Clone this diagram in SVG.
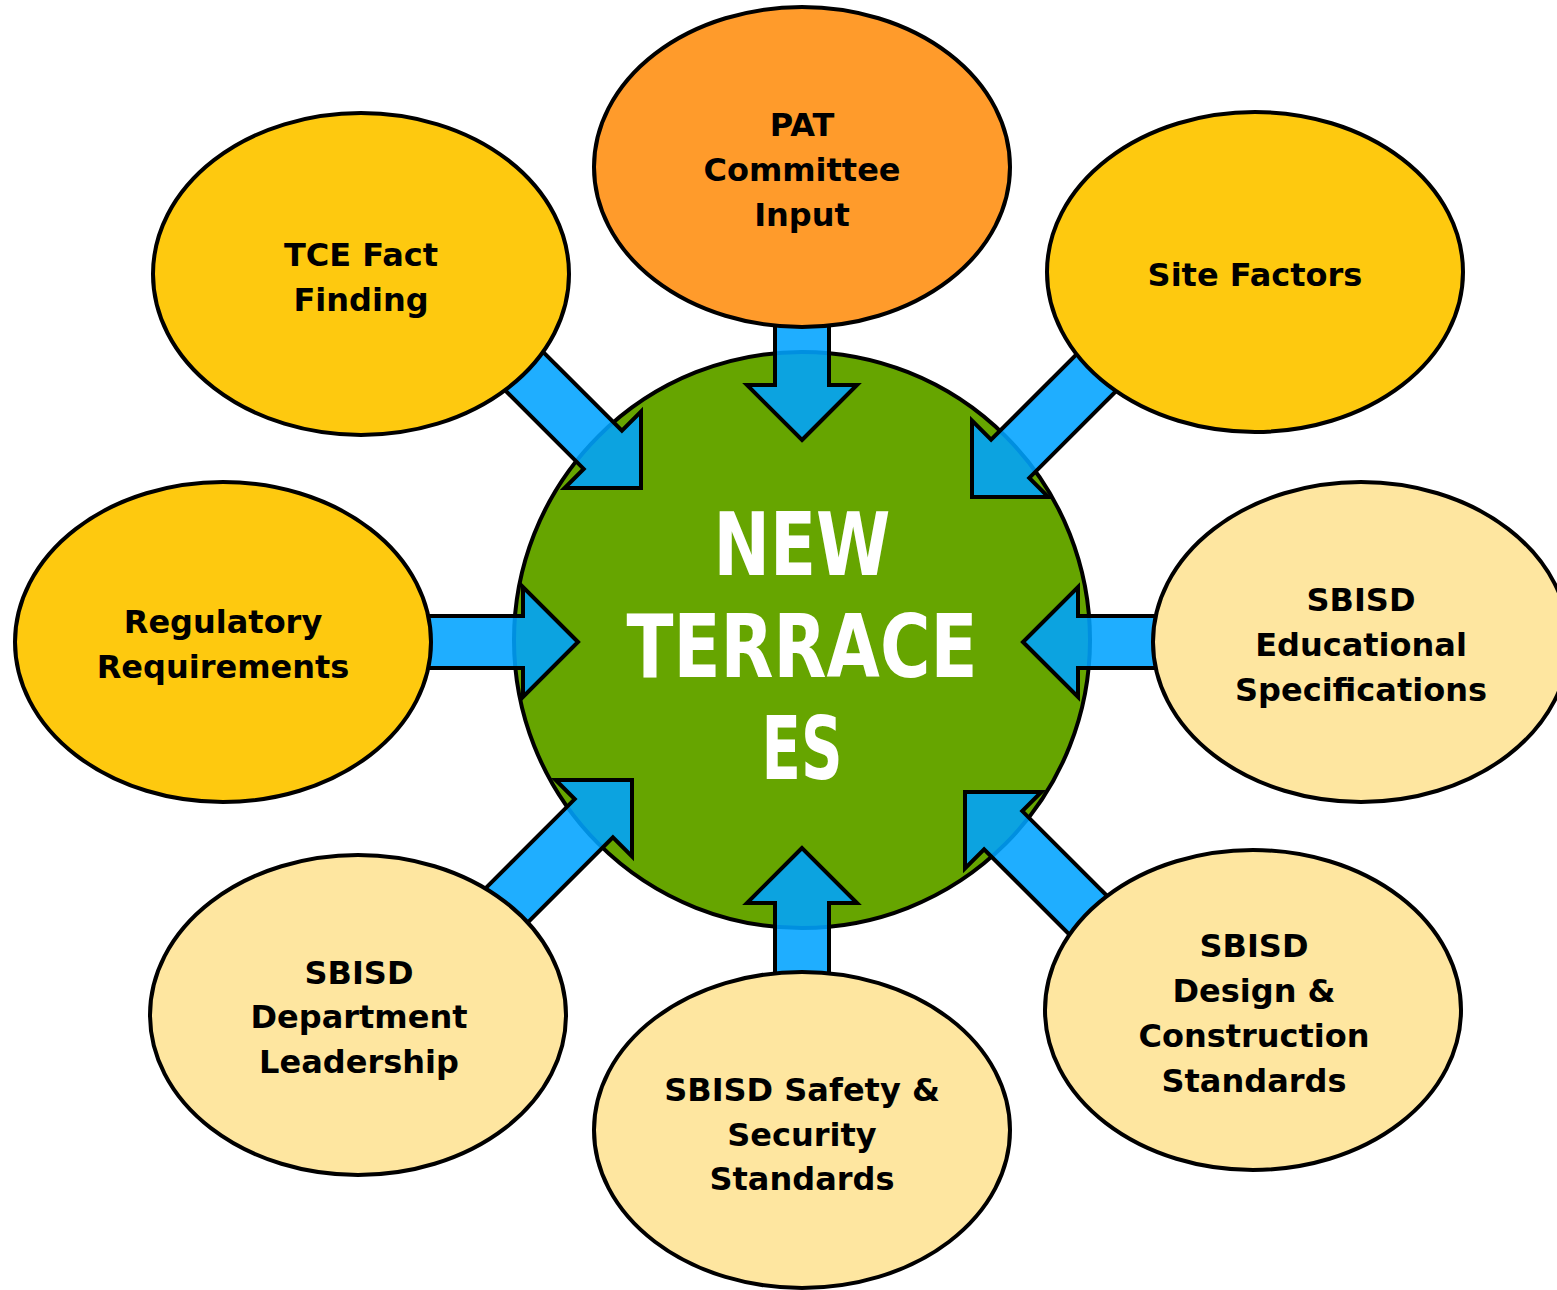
<svg xmlns="http://www.w3.org/2000/svg" width="1557" height="1290" viewBox="0 0 1557 1290">
<style>
.node{stroke:#000;stroke-width:4}
.dark{fill:#FEC90F}
.light{fill:#FEE6A0}
.orange{fill:#FF9B2B}
.lbl{font-family:"DejaVu Sans","Liberation Sans",sans-serif;font-weight:bold;font-size:32px;fill:#000;text-anchor:middle}
.ctr{font-family:"DejaVu Sans","Liberation Sans",sans-serif;font-weight:bold;font-size:88px;fill:#fff;text-anchor:middle}
.arrow{fill:#00A3FF;fill-opacity:0.88;stroke:#000;stroke-width:4;stroke-linejoin:miter}
</style>
<rect width="1557" height="1290" fill="#fff"/>
<g id="center">
<circle cx="802" cy="640" r="288" fill="#66A500" stroke="#000" stroke-width="4"/>
<text class="ctr" x="802" y="575" textLength="177" lengthAdjust="spacingAndGlyphs">NEW</text>
<text class="ctr" x="802" y="677" textLength="351" lengthAdjust="spacingAndGlyphs">TERRACE</text>
<text class="ctr" x="802" y="779" textLength="81" lengthAdjust="spacingAndGlyphs">ES</text>
</g>
<g id="connectors">
<path class="arrow" transform="translate(802,440) rotate(90)" d="M0,0 L-55,-55 L-55,-27 L-128,-27 L-128,27 L-55,27 L-55,55 Z"/>
<path class="arrow" transform="translate(578,642)" d="M0,0 L-55,-55 L-55,-26 L-162,-26 L-162,26 L-55,26 L-55,55 Z"/>
<path class="arrow" transform="translate(1023,642) rotate(180)" d="M0,0 L-55,-55 L-55,-26 L-147,-26 L-147,26 L-55,26 L-55,55 Z"/>
<path class="arrow" transform="translate(802,848) rotate(-90)" d="M0,0 L-55,-55 L-55,-27 L-139,-27 L-139,27 L-55,27 L-55,55 Z"/>
<path class="arrow" transform="translate(641,488) rotate(45)" d="M0,0 L-54,-54 L-54,-27 L-178,-27 L-178,27 L-54,27 L-54,54 Z"/>
<path class="arrow" transform="translate(972,497) rotate(135)" d="M0,0 L-54,-54 L-54,-27 L-190,-27 L-190,27 L-54,27 L-54,54 Z"/>
<path class="arrow" transform="translate(632,780) rotate(-45)" d="M0,0 L-54,-54 L-54,-27 L-192,-27 L-192,27 L-54,27 L-54,54 Z"/>
<path class="arrow" transform="translate(965,792) rotate(-135)" d="M0,0 L-54,-54 L-54,-27 L-190,-27 L-190,27 L-54,27 L-54,54 Z"/>
</g>
<g id="pat">
<ellipse class="node orange" cx="802" cy="167" rx="208" ry="160"/>
<text class="lbl" x="802" y="136">PAT</text>
<text class="lbl" x="802" y="181">Committee</text>
<text class="lbl" x="802" y="226">Input</text>
</g>
<g id="tce">
<ellipse class="node dark" cx="361" cy="274" rx="208" ry="161"/>
<text class="lbl" x="361" y="266">TCE Fact</text>
<text class="lbl" x="361" y="311">Finding</text>
</g>
<g id="site">
<ellipse class="node dark" cx="1255" cy="272" rx="208" ry="160"/>
<text class="lbl" x="1255" y="286">Site Factors</text>
</g>
<g id="regulatory">
<ellipse class="node dark" cx="223" cy="642" rx="208" ry="160"/>
<text class="lbl" x="223" y="633">Regulatory</text>
<text class="lbl" x="223" y="678">Requirements</text>
</g>
<g id="edspecs">
<ellipse class="node light" cx="1361" cy="642" rx="208" ry="160"/>
<text class="lbl" x="1361" y="611">SBISD</text>
<text class="lbl" x="1361" y="656">Educational</text>
<text class="lbl" x="1361" y="701">Specifications</text>
</g>
<g id="department">
<ellipse class="node light" cx="358" cy="1015" rx="208" ry="160"/>
<text class="lbl" x="359" y="984">SBISD</text>
<text class="lbl" x="359" y="1028">Department</text>
<text class="lbl" x="359" y="1073">Leadership</text>
</g>
<g id="safety">
<ellipse class="node light" cx="802" cy="1130" rx="208" ry="158"/>
<text class="lbl" x="802" y="1101">SBISD Safety &amp;</text>
<text class="lbl" x="802" y="1146">Security</text>
<text class="lbl" x="802" y="1190">Standards</text>
</g>
<g id="design">
<ellipse class="node light" cx="1253" cy="1010" rx="208" ry="160"/>
<text class="lbl" x="1254" y="957">SBISD</text>
<text class="lbl" x="1254" y="1002">Design &amp;</text>
<text class="lbl" x="1254" y="1047">Construction</text>
<text class="lbl" x="1254" y="1092">Standards</text>
</g>
</svg>
